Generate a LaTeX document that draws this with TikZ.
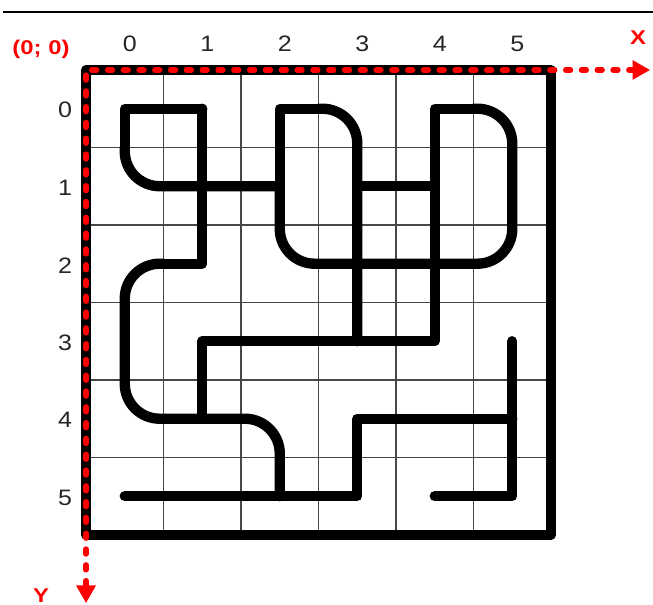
\documentclass[tikz,border=0pt]{standalone}
\usepackage{fontspec}
\setmainfont{Liberation Sans}
\newfontfamily\lblfont[FakeStretch=1.12]{Liberation Sans}
\newfontfamily\redfont[FakeStretch=1.2]{Liberation Sans}
\usetikzlibrary{arrows.meta}
\begin{document}
\begin{tikzpicture}[x=1cm,y=-1cm,
  gridline/.style={line width=0.55pt, draw=black!72},
  pathline/.style={line width=3.8pt, line cap=round, line join=round},
  rc/.style={pathline, rounded corners=0.45cm},
  borderline/.style={line width=3.6pt, line join=round},
  axisline/.style={draw=red, line width=2.1pt, line cap=round, line join=round,
    dash pattern=on 1.7pt off 4.1pt,
    {Triangle[length=6.5pt,width=6.8pt]}-{Triangle[length=6.5pt,width=6.8pt]}},
  numlbl/.style={font=\lblfont\fontsize{8.2pt}{9pt}\selectfont, inner sep=0pt, text=black!85},
  redlbl/.style={font=\redfont\bfseries\fontsize{7.3pt}{8pt}\selectfont, inner sep=0pt, text=red}
]
\useasboundingbox (-1.61,-1.403) rectangle (6.816,6.403);
% top rule
\coordinate (ruleL) at (-1.571,-1.248);
\coordinate (ruleR) at (6.816,-1.248);
\draw[line width=0.6pt] (ruleL) -- (ruleR);
% thin grid
\foreach \k in {0.5,1.5,2.5,3.5,4.5} {
  \draw[gridline] (\k,-0.5) -- (\k,5.5);
  \draw[gridline] (-0.5,\k) -- (5.5,\k);
}
% maze paths
\draw[pathline] (1,0) -- (0,0) -- (0,0.5);
\draw[rc] (0,0.5) -- (0,1) -- (2,1);
\draw[pathline] (1,0) -- (1,2) -- (0.5,2);
\draw[rc] (0.5,2) -- (0,2) -- (0,4) -- (2,4) -- (2,5);
\draw[pathline] (1,4) -- (1,3) -- (4,3) -- (4,0) -- (4.5,0);
\draw[rc] (4.5,0) -- (5,0) -- (5,2) -- (2,2) -- (2,1);
\draw[pathline] (2,1) -- (2,0) -- (2.5,0);
\draw[rc] (2.5,0) -- (3,0) -- (3,3);
\draw[pathline] (3,1) -- (4,1);
\draw[pathline] (0,5) -- (3,5) -- (3,4) -- (5,4);
\draw[pathline] (5,3) -- (5,5) -- (4,5);
% border
\draw[borderline] (-0.5,-0.5) rectangle (5.5,5.5);
% axes
\coordinate (O) at (-0.5,-0.5);
\coordinate (Xtip) at (6.78,-0.5);
\coordinate (Ytip) at (-0.5,6.38);
\draw[axisline] (Xtip) -- (O) -- (Ytip);
% labels
\foreach \c in {0,...,5} {
  \node[numlbl] (col\c) at (\c+0.065,-0.842) {\c};
  \node[numlbl] (row\c) at (-0.771,\c+0.02) {\c};
}
\node[redlbl] (origin) at (-1.081,-0.771) {(0; 0)};
\node[redlbl] (xlbl) at (6.623,-0.913) {X};
\node[redlbl] (ylbl) at (-1.081,6.287) {Y};
\end{tikzpicture}
\end{document}
